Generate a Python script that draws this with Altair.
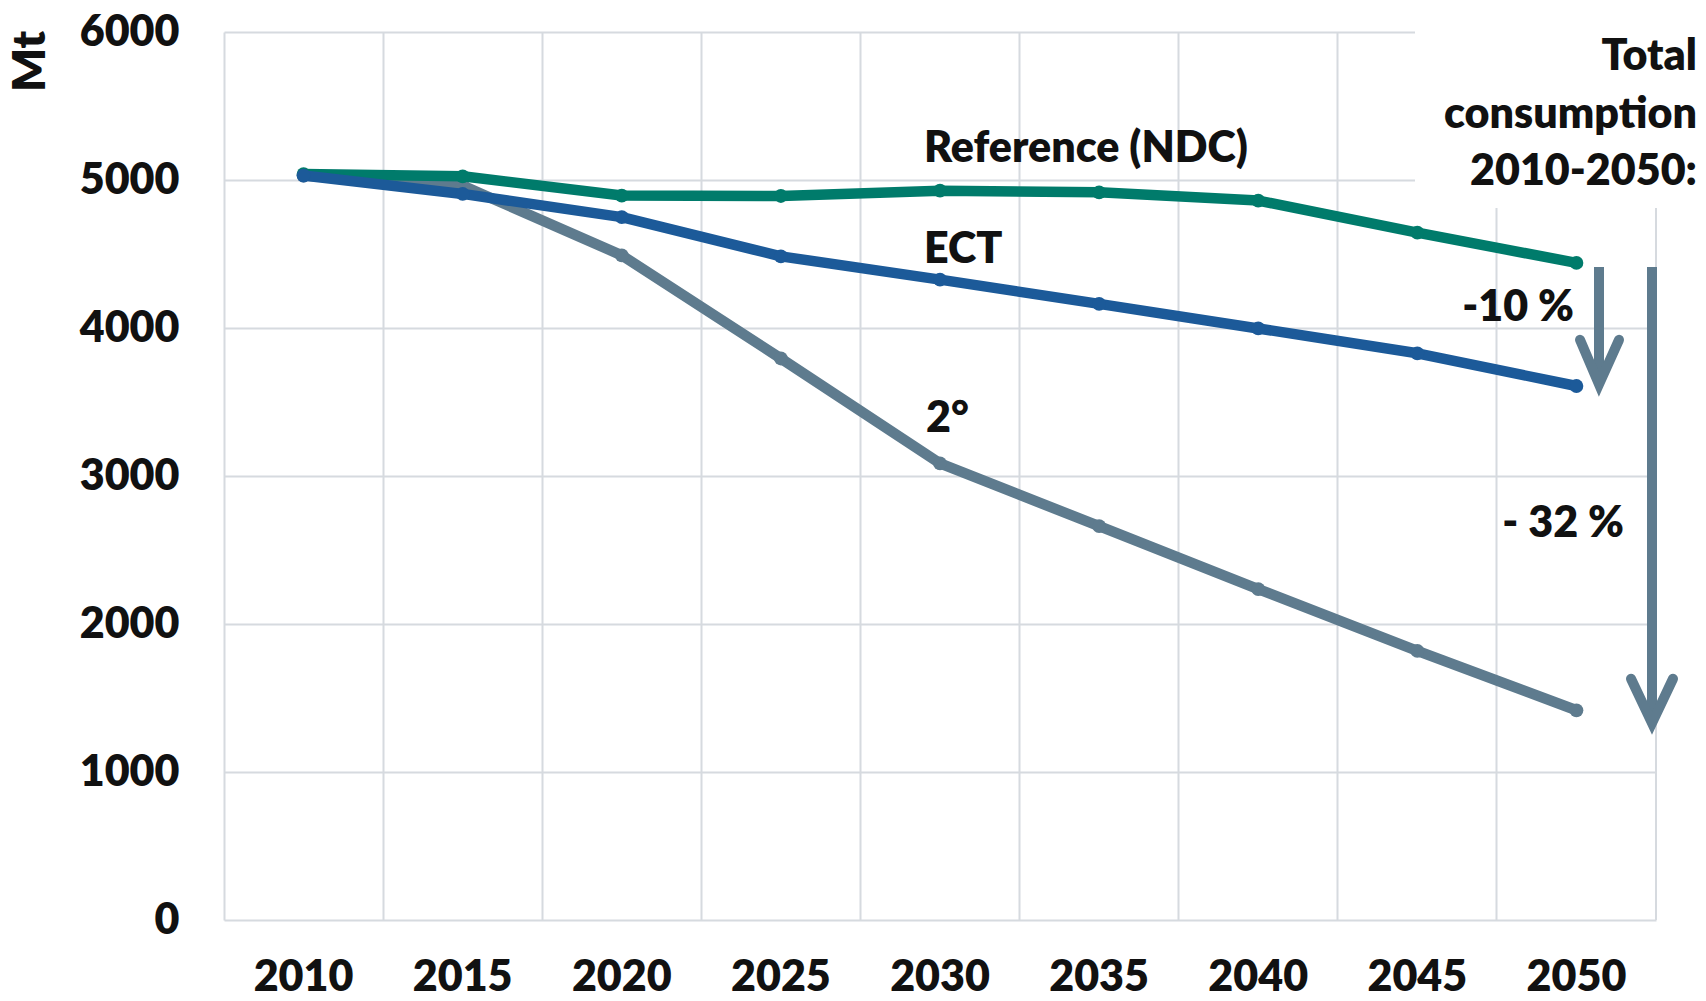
import altair as alt
import pandas as pd

# ---- data ----
years = ["2010", "2015", "2020", "2025", "2030", "2035", "2040", "2045", "2050"]
reference_ndc = [5040, 5025, 4895, 4892, 4928, 4917, 4861, 4644, 4440]
ect = [5030, 4906, 4749, 4484, 4327, 4163, 3997, 3829, 3608]
two_deg = [5030, 4962, 4491, 3794, 3085, 2661, 2236, 1818, 1417]
y_ticks = [0, 1000, 2000, 3000, 4000, 5000, 6000]

series_names = ["2°", "Reference (NDC)", "ECT"]
series_values = [two_deg, reference_ndc, ect]
series_colors = ["#5E7B8E", "#007B6B", "#1C5A99"]

# reduction arrows (x in pixels of the plot area, y in Mt)
shaft_part = ["s10", "s10", "s32", "s32"]
shaft_px = [1375, 1375, 1428, 1428]
shaft_val = [4412, 3700, 4412, 1400]
head_part = ["h10", "h10", "h10", "h32", "h32", "h32"]
head_ord = [0, 1, 2, 0, 1, 2]
head_px = [1356, 1375, 1395, 1407, 1428, 1449]
head_val = [3920, 3620, 3920, 1630, 1330, 1630]

W, H = 1432, 888
FONT = "Lato"
WEIGHT = 800
FS = 43
GRID = "#D6DADF"
TXT = "#111111"
ARROW = "#5E7B8E"

x_enc = alt.X(
    "year:O",
    scale=alt.Scale(type="band", domain=years, paddingInner=0, paddingOuter=0),
    axis=alt.Axis(
        title=None, bandPosition=0, grid=True,
        gridColor=GRID, gridWidth=2, ticks=False, domain=False,
        labelAngle=0, labelPadding=36, labelBaseline="top",
    ),
)
y_enc = alt.Y(
    "value:Q",
    scale=alt.Scale(domain=[0, 6000], nice=False, zero=True),
    axis=alt.Axis(
        values=y_ticks, format="d", grid=True, gridColor=GRID, gridWidth=2,
        ticks=False, domain=False, labelPadding=45, title="Mt", titleAngle=270,
        titleX=-194, titleY=29, titleAlign="center", titleBaseline="middle",
        titleFontSize=46, titleFont=FONT, titleFontWeight=WEIGHT, titleColor=TXT,
    ),
)

layers = []
for name, vals, col in zip(series_names, series_values, series_colors):
    df = pd.DataFrame({"year": years, "value": vals, "series": name})
    line = alt.Chart(df).mark_line(color=col, strokeJoin="round", strokeCap="round").encode(
        x=x_enc, y=y_enc, strokeWidth=alt.value(10.5)
    )
    dots = alt.Chart(df).mark_circle(color=col, opacity=1, size=190).encode(x=x_enc, y=y_enc)
    layers += [line, dots]

one = pd.DataFrame({"a": [0]})

# white box behind the side note and right edge line of the plot frame
box = alt.Chart(one).mark_rect(color="white").encode(
    x=alt.value(1191), x2=alt.value(W + 20), y=alt.value(-12), y2=alt.value(176)
)
right_edge = alt.Chart(one).mark_rule(color=GRID, strokeWidth=2).encode(
    x=alt.value(W), y=alt.value(176), y2=alt.value(H)
)

shafts = alt.Chart(pd.DataFrame({"part": shaft_part, "px": shaft_px, "value": shaft_val})).mark_line(
    color=ARROW, strokeCap="butt"
).encode(x=alt.X("px:Q", scale=None), y=alt.Y("value:Q"), detail="part:N",
         strokeWidth=alt.value(10))

heads = alt.Chart(pd.DataFrame({"part": head_part, "ord": head_ord, "px": head_px, "value": head_val})).mark_line(
    color=ARROW, strokeJoin="miter", strokeCap="round"
).encode(
    x=alt.X("px:Q", scale=None),
    y=alt.Y("value:Q"),
    detail="part:N",
    order=alt.Order("ord:Q"),
    strokeWidth=alt.value(10),
)


def label(text, px, py, align="left", **kw):
    return alt.Chart(one).mark_text(
        text=text, align=align, baseline="alphabetic", font=FONT,
        fontWeight=WEIGHT, fontSize=FS, color=TXT, **kw
    ).encode(x=alt.value(px), y=alt.value(py))


texts = [
    label("Reference (NDC)", 700, 130),
    label("ECT", 700, 231),
    label("2°", 702, 400),
    label("-10 %", 1350, 289, align="right"),
    label("- 32 %", 1400, 505, align="right"),
    label("Total\nconsumption\n2010-2050:", 1473, 38, align="right",
          lineBreak="\n", lineHeight=57.5),
]

chart = alt.layer(box, right_edge, *layers, shafts, heads, *texts).properties(
    width=W, height=H,
    autosize=alt.AutoSizeParams(type="none"),
    padding={"left": 216, "top": 24, "right": 40, "bottom": 72},
).configure_view(stroke=None).configure_axis(
    labelFont=FONT, labelFontWeight=WEIGHT, labelFontSize=FS, labelColor=TXT,
)

chart.save("out.html", embed_options={"renderer": "svg", "actions": False})
